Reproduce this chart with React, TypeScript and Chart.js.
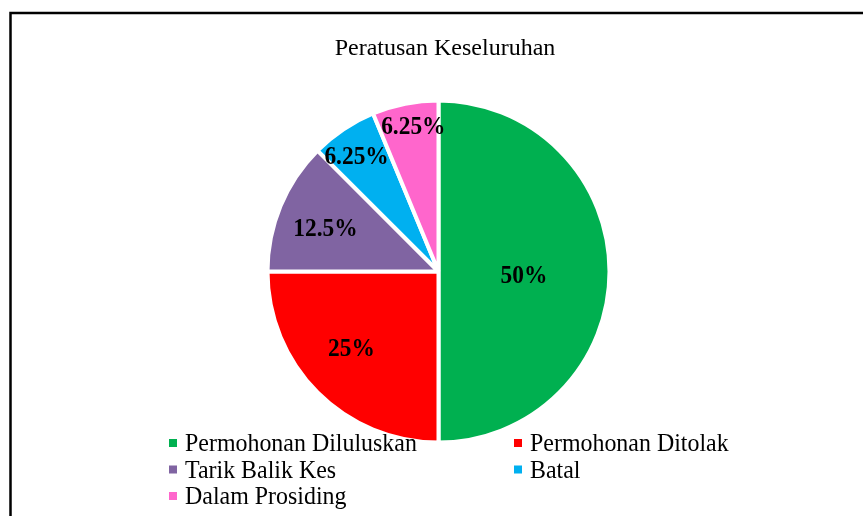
import React, { useEffect, useRef } from "react";
import { Chart, registerables } from "chart.js";

Chart.register(...registerables);

const titleText = "Peratusan Keseluruhan";
const categories = [
  "Permohonan Diluluskan",
  "Permohonan Ditolak",
  "Tarik Balik Kes",
  "Batal",
  "Dalam Prosiding",
];
const values = [50, 25, 12.5, 6.25, 6.25];
const valueLabels = ["50%", "25%", "12.5%", "6.25%", "6.25%"];
const colors = ["#00B050", "#FF0000", "#8064A2", "#00B0F0", "#FF66CC"];
// placement of each value label: fraction of radius and small angular shift (deg)
const labelRadius = [0.5, 0.675, 0.71, 0.83, 0.87];
const labelAngleShift = [2, 4, -1, -1.5, 1.5];

const SERIF = "'Liberation Serif', 'Times New Roman', serif";

function squeezedText(
  ctx: CanvasRenderingContext2D,
  text: string,
  x: number,
  y: number,
  align: "left" | "center",
  squeeze: number
) {
  ctx.save();
  ctx.translate(x, y);
  ctx.scale(squeeze, 1);
  ctx.textAlign = align;
  ctx.fillText(text, 0, 0);
  ctx.restore();
}

const decorPlugin = {
  id: "decor",
  beforeDraw(chart: any) {
    const ctx = chart.ctx;
    ctx.save();
    ctx.fillStyle = "#ffffff";
    ctx.fillRect(0, 0, chart.width, chart.height);
    ctx.strokeStyle = "#000000";
    ctx.lineWidth = 2.5;
    ctx.beginPath();
    ctx.moveTo(10.5, chart.height + 5);
    ctx.lineTo(10.5, 13);
    ctx.lineTo(chart.width + 5, 13);
    ctx.stroke();
    ctx.restore();
  },
  afterDraw(chart: any) {
    const ctx = chart.ctx;
    ctx.save();
    // title
    ctx.fillStyle = "#000000";
    ctx.font = `24px ${SERIF}`;
    ctx.textAlign = "center";
    ctx.textBaseline = "alphabetic";
    ctx.fillText(titleText, 445, 55);

    // value labels
    const meta = chart.getDatasetMeta(0);
    ctx.font = `bold 26px ${SERIF}`;
    ctx.textBaseline = "middle";
    meta.data.forEach((arc: any, i: number) => {
      const p = arc.getProps(["x", "y", "startAngle", "endAngle", "outerRadius"], true);
      const mid = (p.startAngle + p.endAngle) / 2 + (labelAngleShift[i] * Math.PI) / 180;
      const r = p.outerRadius * labelRadius[i];
      squeezedText(ctx, valueLabels[i], p.x + Math.cos(mid) * r, p.y + Math.sin(mid) * r + 2, "center", 0.9);
    });

    // legend
    ctx.font = `26px ${SERIF}`;
    ctx.textBaseline = "alphabetic";
    const colX = [169, 514];
    const rowY = [451, 477.5, 504];
    categories.forEach((c, i) => {
      const x = colX[i % 2];
      const y = rowY[Math.floor(i / 2)];
      ctx.fillStyle = colors[i];
      ctx.fillRect(x, y - 12, 8, 8);
      ctx.fillStyle = "#000000";
      squeezedText(ctx, c, x + 16, y, "left", 0.92);
    });
    ctx.restore();
  },
};

export default function App() {
  const ref = useRef<HTMLCanvasElement | null>(null);
  useEffect(() => {
    if (!ref.current) return;
    const chart = new Chart(ref.current, {
      type: "pie",
      data: {
        labels: categories,
        datasets: [
          {
            data: values,
            backgroundColor: colors,
            borderColor: "#ffffff",
            borderWidth: 4,
            hoverOffset: 0,
          },
        ],
      },
      options: {
        responsive: false,
        animation: false,
        radius: 171,
        layout: { padding: { left: 14, top: 27, right: 0, bottom: 0 } },
        plugins: {
          legend: { display: false },
          title: { display: false },
          tooltip: { enabled: false },
        },
        events: [],
      } as any,
      plugins: [decorPlugin],
    });
    return () => chart.destroy();
  }, []);
  return (
    <div style={{ position: "fixed", left: 0, top: 0, width: 863, height: 516, overflow: "hidden" }}>
      <canvas ref={ref} width={863} height={516} style={{ display: "block" }} />
    </div>
  );
}
